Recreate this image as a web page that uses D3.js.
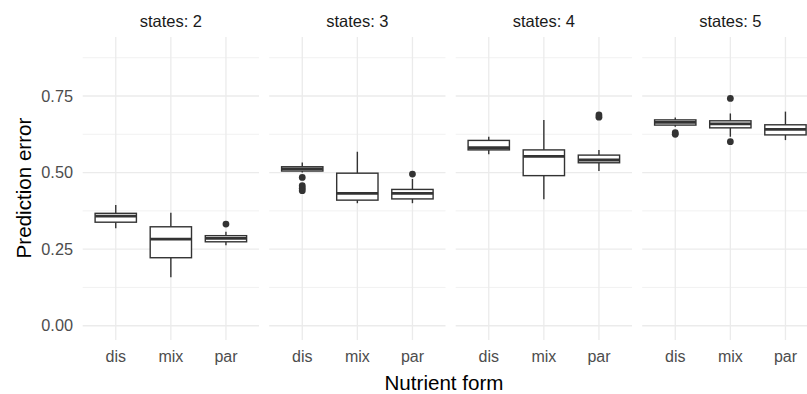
<!DOCTYPE html>
<html>
<head>
<meta charset="utf-8">
<script src="https://cdn.jsdelivr.net/npm/d3@7/dist/d3.min.js"></script>
<style>
  body { margin: 0; background: #fff; }
  svg { font-family: "Liberation Sans", Arial, sans-serif; }
</style>
</head>
<body>
<div id="chart"></div>
<script>
// facets and categories
const states = [2, 3, 4, 5];
const forms = ['dis', 'mix', 'par'];
const yTicks = [0, 0.25, 0.5, 0.75];
const yMinor = [0.125, 0.375, 0.625, 0.875];

// box stats, one row per state, one entry per form (dis, mix, par)
const whiskerLow = [
  [0.318, 0.158, 0.263],
  [0.500, 0.400, 0.400],
  [0.560, 0.413, 0.505],
  [0.650, 0.617, 0.606]
];
const q1 = [
  [0.338, 0.222, 0.274],
  [0.505, 0.410, 0.414],
  [0.574, 0.490, 0.532],
  [0.655, 0.646, 0.623]
];
const median = [
  [0.358, 0.283, 0.285],
  [0.512, 0.432, 0.432],
  [0.581, 0.553, 0.541],
  [0.664, 0.659, 0.641]
];
const q3 = [
  [0.367, 0.323, 0.294],
  [0.519, 0.498, 0.445],
  [0.605, 0.574, 0.557],
  [0.672, 0.669, 0.656]
];
const whiskerHigh = [
  [0.394, 0.369, 0.307],
  [0.533, 0.568, 0.479],
  [0.617, 0.672, 0.574],
  [0.680, 0.693, 0.699]
];
const outliers = [
  [[], [], [0.332]],
  [[0.484, 0.457, 0.449, 0.441], [], [0.495]],
  [[], [], [0.688, 0.681]],
  [[0.630, 0.625], [0.742, 0.601], []]
];

const W = 807, H = 394;
const panelW = 176.3, panelStep = 186.5, panelLeft = 82.7;
const panelTop = 37, panelBottom = 340;

const svg = d3.select('#chart').append('svg')
  .attr('width', W).attr('height', H);

const y = d3.scaleLinear().domain([-0.0466, 0.9426]).range([panelBottom, panelTop]);

states.forEach((s, i) => {
  const left = panelLeft + i * panelStep;
  // discrete scale with 0.6 expansion on each side
  const x = d3.scaleBand().domain(forms)
    .range([left, left + panelW]).paddingOuter(0.1).paddingInner(0);
  const step = x.step();
  const cx = d => x(d) + step / 2;
  const g = svg.append('g');

  // grid
  g.selectAll('.minor').data(yMinor).enter().append('line')
    .attr('x1', left).attr('x2', left + panelW)
    .attr('y1', d => y(d)).attr('y2', d => y(d))
    .attr('stroke', '#ebebeb').attr('stroke-width', 0.7);
  g.selectAll('.major').data(yTicks).enter().append('line')
    .attr('x1', left).attr('x2', left + panelW)
    .attr('y1', d => y(d)).attr('y2', d => y(d))
    .attr('stroke', '#ebebeb').attr('stroke-width', 1.3);
  g.selectAll('.vmajor').data(forms).enter().append('line')
    .attr('x1', d => cx(d)).attr('x2', d => cx(d))
    .attr('y1', panelTop).attr('y2', panelBottom)
    .attr('stroke', '#ebebeb').attr('stroke-width', 1.3);

  // strip
  svg.append('text')
    .attr('x', left + panelW / 2).attr('y', 26.5)
    .attr('text-anchor', 'middle')
    .attr('font-size', 16.5).attr('fill', '#1a1a1a')
    .text('states: ' + s);

  // x tick labels
  g.selectAll('.xt').data(forms).enter().append('text')
    .attr('x', d => cx(d)).attr('y', 362)
    .attr('text-anchor', 'middle')
    .attr('font-size', 16).attr('fill', '#4d4d4d')
    .text(d => d);

  const bw = step * 0.75;
  forms.forEach((f, j) => {
    const c = cx(f);
    const bg = g.append('g').attr('stroke', '#333333').attr('fill', 'none');
    bg.append('line').attr('x1', c).attr('x2', c)
      .attr('y1', y(q3[i][j])).attr('y2', y(whiskerHigh[i][j]))
      .attr('stroke-width', 1.4);
    bg.append('line').attr('x1', c).attr('x2', c)
      .attr('y1', y(q1[i][j])).attr('y2', y(whiskerLow[i][j]))
      .attr('stroke-width', 1.4);
    bg.append('rect')
      .attr('x', c - bw / 2).attr('width', bw)
      .attr('y', y(q3[i][j])).attr('height', y(q1[i][j]) - y(q3[i][j]))
      .attr('fill', '#fff').attr('stroke-width', 1.4);
    bg.append('line').attr('x1', c - bw / 2).attr('x2', c + bw / 2)
      .attr('y1', y(median[i][j])).attr('y2', y(median[i][j]))
      .attr('stroke-width', 2.8);
    bg.selectAll('circle').data(outliers[i][j]).enter().append('circle')
      .attr('cx', c).attr('cy', d => y(d)).attr('r', 3.4)
      .attr('fill', '#333333').attr('stroke', 'none');
  });
});

// y tick labels
svg.selectAll('.yt').data(yTicks).enter().append('text')
  .attr('x', 73).attr('y', d => y(d))
  .attr('dy', '0.35em')
  .attr('text-anchor', 'end')
  .attr('font-size', 16.3).attr('fill', '#4d4d4d')
  .text(d => d3.format('.2f')(d));

// axis titles
svg.append('text')
  .attr('transform', 'translate(31,188) rotate(-90)')
  .attr('text-anchor', 'middle')
  .attr('font-size', 20.6).attr('fill', '#000')
  .text('Prediction error');
svg.append('text')
  .attr('x', 444).attr('y', 390)
  .attr('text-anchor', 'middle')
  .attr('font-size', 20.6).attr('fill', '#000')
  .text('Nutrient form');
</script>
</body>
</html>
